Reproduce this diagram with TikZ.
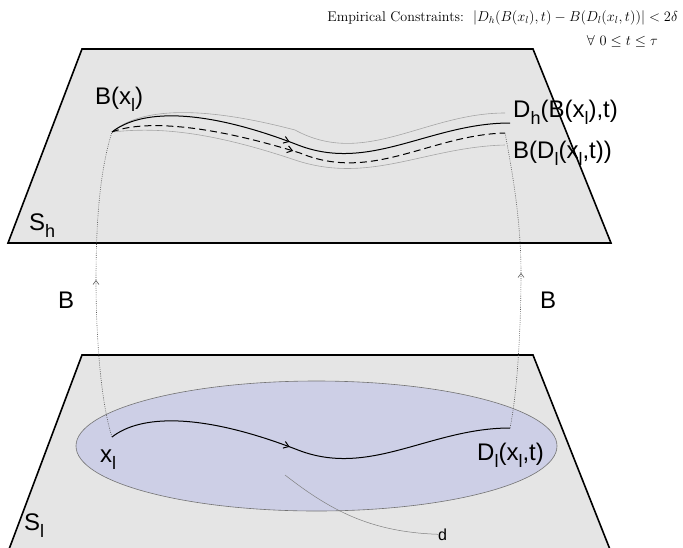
\documentclass[tikz,border=0pt]{standalone}
\usepackage{fontspec}
\newfontfamily\arial{Liberation Sans}
\usetikzlibrary{arrows.meta,decorations.markings}
\definecolor{planegray}{RGB}{229,229,229}
\definecolor{ellfill}{RGB}{205,207,230}
\newcommand{\lsub}[1]{\raisebox{-7.5pt}{\fontsize{18}{18}\selectfont #1}}
\begin{document}
\begin{tikzpicture}[x=1pt,y=-1pt,
  plane/.style={fill=planegray,draw=black,line width=1.6pt,line join=miter},
  ellstyle/.style={fill=ellfill,draw=black!55,line width=0.6pt},
  lab/.style={font=\arial\fontsize{24}{24}\selectfont,inner sep=0pt,anchor=base west},
  smalllab/.style={font=\arial\fontsize{16}{16}\selectfont,inner sep=0pt,anchor=base west},
  guide/.style={draw=black!50,line width=0.5pt},
  envelope/.style={draw=black!35,line width=0.6pt},
  mapline/.style={draw=black!65,line width=0.6pt,dash pattern=on 0.9pt off 1.3pt},
  maptip/.style={-{Straight Barb[length=4pt,width=6pt]}},
  tipmark/.style={postaction=decorate,decoration={markings,mark=at position #1 with {\arrow{Straight Barb[length=5pt,width=7pt]}}}},
  tipmark/.default=0.45
]
\useasboundingbox (0,0) rectangle (683,547);
\clip (0,0) rectangle (683,547);
% coordinates
\coordinate (xl) at (112,437);
\coordinate (dl) at (510,428);
\coordinate (lmid) at (298,450);
\coordinate (bxl) at (112,132);
\coordinate (dh) at (510,123);
\coordinate (bdl) at (505,133);
\coordinate (la) at (96,280);
\coordinate (ra) at (521,273);
\coordinate (dstart) at (285,475);
% lower plane
\draw[plane] (82,355) -- (533,355) -- (611,552) -- (8,552) -- cycle;
\draw[ellstyle] (316.5,446) ellipse [x radius=240.5, y radius=65];
\draw[line width=1pt,tipmark] (xl) .. controls (140,415) and (200,412) .. (lmid) .. controls (370,478) and (430,428) .. (dl);
% upper plane
\draw[plane] (82,49) -- (533,49) -- (611,243) -- (8,243) -- cycle;
\draw[envelope] (bxl) .. controls (140,108) and (200,105) .. (295,130) .. controls (365,168) and (425,113) .. (505,113);
\draw[envelope] (bxl) .. controls (150,128) and (200,128) .. (295,160) .. controls (370,185) and (425,147) .. (505,145);
\draw[line width=1pt,tipmark] (bxl) .. controls (140,110) and (200,107) .. (298,145) .. controls (370,173) and (430,123) .. (dh);
\draw[line width=1pt,dash pattern=on 7pt off 4pt,tipmark=0.46] (bxl) .. controls (140,121) and (200,122) .. (300,153) .. controls (372,183) and (430,135) .. (bdl);
% mapping lines
\draw[mapline,maptip] (xl) .. controls (100,400) and (96,330) .. (la);
\draw[mapline] (la) .. controls (96,220) and (100,170) .. (bxl);
\draw[mapline,maptip] (dl) .. controls (518,390) and (521,320) .. (ra);
\draw[mapline] (ra) .. controls (521,220) and (512,170) .. (bdl);
% labels
\node[lab] (Lbxl) at (95,104) {B(x\lsub{l})};
\node[lab] (Ldh) at (513,117) {D\lsub{h}(B(x\lsub{l}),t)};
\node[lab] (Lbdl) at (513,158) {B(D\lsub{l}(x\lsub{l},t))};
\node[lab] (Lsh) at (29,230) {S\lsub{h}};
\node[lab] (Lb1) at (58,308) {B};
\node[lab] (Lb2) at (540,308) {B};
\node[lab] (Lxl) at (100,462) {x\lsub{l}};
\node[lab] (Ldl) at (477,460) {D\lsub{l}(x\lsub{l},t)};
\node[lab] (Lsl) at (24,530) {S\lsub{l}};
\node[smalllab] (Ld) at (438,540) {d};
\draw[guide] (dstart) .. controls (330,510) and (370,532) .. (Ld.west);
% constraints
\node[anchor=base east,inner sep=0pt,font=\fontsize{14.1}{16}\selectfont] (emp) at (678,21) {Empirical Constraints:\ \ $|D_h(B(x_l),t)-B(D_l(x_l,t))|<2\delta$};
\node[anchor=base east,inner sep=0pt,font=\fontsize{14.1}{16}\selectfont] (forall) at (658,45) {$\forall\ 0\le t\le\tau$};
\end{tikzpicture}
\end{document}
